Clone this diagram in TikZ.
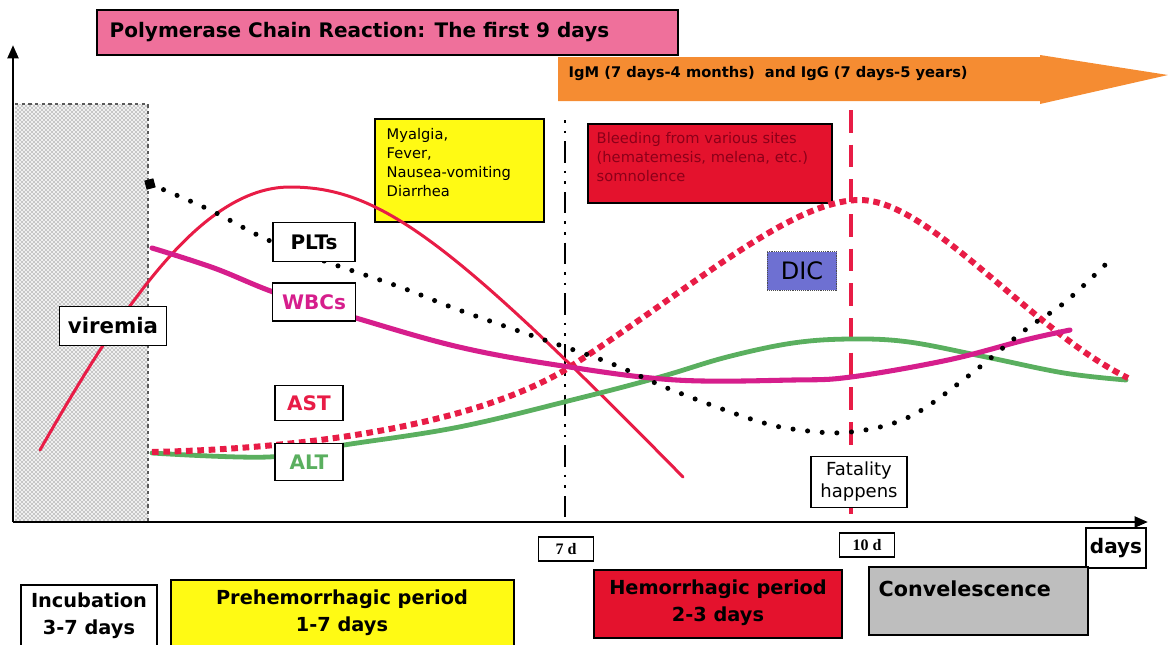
\documentclass[tikz,border=0pt]{standalone}
\usepackage{fontspec}
\setmainfont{DejaVu Sans}
\newfontfamily\tnr{Liberation Serif}
\usetikzlibrary{arrows.meta,patterns}

\definecolor{titlepink}{RGB}{239,112,155}
\definecolor{igorange}{RGB}{245,140,50}
\definecolor{symyellow}{RGB}{255,250,20}
\definecolor{bleedred}{RGB}{228,18,45}
\definecolor{bleedtext}{RGB}{140,0,25}
\definecolor{dicblue}{RGB}{110,112,210}
\definecolor{convgray}{RGB}{190,190,190}
\definecolor{virred}{RGB}{232,28,70}
\definecolor{wbcmag}{RGB}{214,30,140}
\definecolor{altgreen}{RGB}{90,175,95}

\tikzset{
  lbl/.style={draw=black, fill=white, line width=0.8pt, inner sep=1pt,
    font=\bfseries\fontsize{15}{17}\selectfont},
  period/.style={draw=black, line width=0.8pt},
  periodtext/.style={align=center, font=\bfseries\fontsize{14.5}{20}\selectfont},
  daybox/.style={draw=black, fill=white, line width=0.8pt, inner sep=1pt,
    minimum height=18pt, font=\tnr\bfseries\fontsize{12}{14}\selectfont},
  axis/.style={line width=2.2pt, -{Triangle[width=8pt,length=10pt]}},
  curve/.style={line width=2.25pt, line join=round, line cap=round},
}

\begin{document}
\begin{tikzpicture}[x=0.75pt,y=-0.75pt]
\useasboundingbox (0,0) rectangle (1168,644);

\fill[black!6] (15,104) rectangle (148,522);
\fill[pattern=crosshatch dots, pattern color=black!75] (15,104) rectangle (148,522);
\draw[black!65, line width=1pt, dash pattern=on 2.5pt off 2.5pt] (15,104) -- (148,104) -- (148,522);

\draw[period, fill=titlepink] (97,10) rectangle (678,55);
\node[anchor=west, font=\bfseries\fontsize{15}{18}\selectfont] (title) at (105,32)
  {Polymerase Chain Reaction: The first 9 days};

\fill[igorange] (558,57) -- (1040,57) -- (1040,55) -- (1168,75)
  -- (1040,104) -- (1040,101) -- (558,101) -- cycle;
\node[anchor=west, font=\bfseries\fontsize{11}{13}\selectfont] (igm) at (564,74)
  {IgM (7 days-4 months)\ \ and IgG (7 days-5 years)};

\draw[period, fill=symyellow] (375,119) rectangle (544,222);
\node[anchor=north west, align=left, font=\fontsize{11}{14.25}\selectfont] (sympt) at (382,124)
  {Myalgia,\\Fever,\\Nausea-vomiting\\Diarrhea};

\draw[period, fill=bleedred] (588,124) rectangle (832,203);
\node[anchor=north west, align=left, text=bleedtext, font=\fontsize{11}{14.25}\selectfont] (bleed) at (592,128)
  {Bleeding from various sites\\(hematemesis, melena, etc.)\\somnolence};

\draw[line width=1.6pt, dash pattern=on 2pt off 6pt on 2pt off 6pt on 16pt off 6pt] (565,120) -- (565,522);
\draw[virred, line width=3.6pt, dash pattern=on 17pt off 9pt] (851,110) -- (851,522);

\draw[axis] (13,522) -- (13,45);
\draw[axis] (13,522) -- (1148,522);

\draw[curve, virred] (40,450) .. controls (120,310) and (200,187) .. (290,187)
  .. controls (380,187) and (450,240) .. (683,477);

\draw[curve, altgreen, line width=3.6pt] plot[smooth, tension=0.6] coordinates {
  (152,453) (268,457) (344,445) (459,427) (580,398) (660,377)
  (727,357) (793,343) (851,339) (909,342) (986,357) (1064,373) (1126,380)};

\draw[curve, virred, line width=4.5pt, line cap=butt, dash pattern=on 5pt off 3.5pt]
  (152,452) .. controls (330,448) and (480,420) .. (565,370)
  .. controls (690,290) and (790,200) .. (860,200)
  .. controls (930,200) and (1030,330) .. (1128,378);

\draw[curve, wbcmag, line width=3.8pt] plot[smooth, tension=0.6] coordinates {
  (152,248) (214,268) (276,293) (356,318) (459,347) (563,366) (676,380) (793,380)
  (851,377) (948,360) (1025,340) (1070,330)};

\node[fill=black, minimum size=7pt, inner sep=0pt, rotate=15] (pltstart) at (150,184) {};
\draw[curve, line width=3.8pt, dash pattern=on 0pt off 11pt] plot[smooth, tension=0.6] coordinates {
  (150,184) (210,210) (268,240) (327,262) (400,287) (459,310) (536,337) (610,363)
  (672,390) (754,420) (800,430) (851,432) (909,417) (967,377) (1025,330) (1064,303) (1105,265)};

\node[lbl, minimum width=61.5pt, minimum height=29pt] (plts) at (314,242) {PLTs};
\node[lbl, minimum width=62pt, minimum height=28.5pt, text=wbcmag] (wbcs) at (314,302) {WBCs};
\node[lbl, minimum width=80pt, minimum height=29pt, font=\bfseries\fontsize{16}{18}\selectfont] (viremia) at (113,326) {viremia};
\node[lbl, minimum width=51pt, minimum height=26pt, text=virred] (ast) at (309,403) {AST};
\node[lbl, minimum width=51pt, minimum height=28pt, text=altgreen] (alt) at (309,462) {ALT};
\node[draw=black!70, densely dotted, fill=dicblue, minimum width=52pt, minimum height=29pt,
  font=\fontsize{18}{20}\selectfont] (dic) at (802,271) {DIC};
\node[lbl, minimum width=72pt, minimum height=38pt, align=center, font=\fontsize{13.5}{16.5}\selectfont]
  (fatal) at (859,482) {Fatality\\happens};

\node[daybox, minimum width=41pt] (d7) at (566,549) {7 d};
\node[daybox, minimum width=41pt] (d10) at (867,545) {10 d};
\node[lbl, minimum width=45pt, minimum height=30pt] (days) at (1116,548) {days};

\draw[period, fill=white] (21,585) rectangle (157,650);
\node[periodtext] (incub) at (89,616) {Incubation\\3-7 days};
\draw[period, fill=symyellow] (171,580) rectangle (514,650);
\node[periodtext] (prehem) at (342,613) {Prehemorrhagic period\\1-7 days};
\draw[period, fill=bleedred] (594,570) rectangle (842,638);
\node[periodtext] (hem) at (718,603) {Hemorrhagic period\\2-3 days};
\draw[period, fill=convgray] (869,567) rectangle (1088,635);
\node[anchor=west, font=\bfseries\fontsize{15.5}{18}\selectfont] (conv) at (874,589) {Convelescence};
\end{tikzpicture}
\end{document}
